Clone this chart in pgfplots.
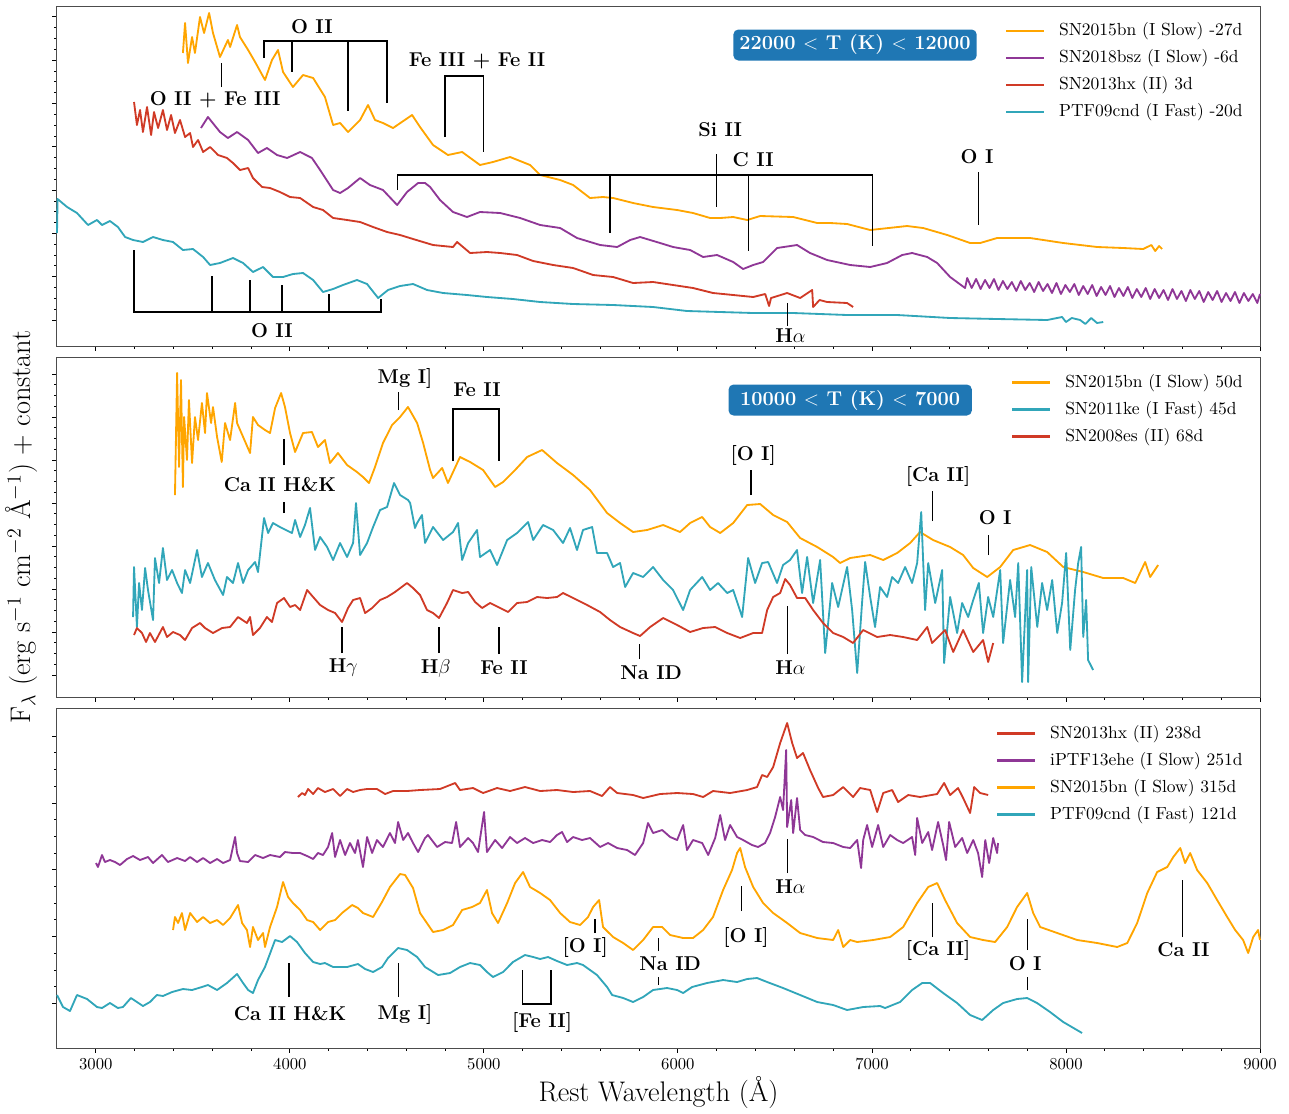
\documentclass[border=0pt]{standalone}
\usepackage{fontspec}
\usepackage{pgfplots}
\pgfplotsset{compat=1.18}
\definecolor{orng}{RGB}{255,165,0}
\definecolor{purp}{RGB}{143,55,150}
\definecolor{redd}{RGB}{208,58,38}
\definecolor{teal}{RGB}{49,166,185}
\definecolor{boxblue}{RGB}{31,119,180}

\pgfplotsset{
  panel/.style={
    scale only axis, width=721.8pt, height=204pt,
    xmin=2800, xmax=9000, ymin=0, ymax=340,
    xtick={3000,4000,...,9000}, minor x tick num=4,
    minor y tick num=3, yticklabels={},
    /pgf/number format/1000 sep={},
    tick pos=left, tick align=outside,
    major tick length=2.7pt, minor tick length=1.6pt,
    axis line style={draw=black!70, line width=0.6pt},
    every tick/.style={black, line width=0.5pt},
    ticklabel style={font=\fontsize{10}{12}\selectfont},
    clip=false, anchor=north west,
    every axis plot/.append style={line width=1.1pt, line join=round},
    legend style={at={(rel axis cs:0.9859,0.952)}, anchor=north east,
      draw=none, fill=none, inner sep=0pt, row sep=5.7pt, column sep=8.4pt,
      font=\fontsize{10.5}{12}\selectfont,
      nodes={inner sep=0pt, text height=8pt, text depth=2.5pt}},
    legend cell align=left,
    legend image code/.code={\draw[##1, line width=1.3pt] (0pt,0pt) -- (22.8pt,0pt);},
  },
}
\tikzset{
  ann/.style={black, line width=0.7pt},
  lbl/.style={font=\fontsize{12}{14}\selectfont\bfseries, inner sep=0pt},
  tbox/.style={fill=boxblue, rounded corners=3pt, text=white,
    font=\fontsize{12}{14}\selectfont\bfseries, minimum height=18.6pt,
    minimum width=146pt, inner sep=2pt},
}

\begin{document}
\begin{tikzpicture}
\useasboundingbox (-34.2pt,3.6pt) rectangle (739.2pt,-664.2pt);

% ---------- top panel ----------
\begin{axis}[panel, at={(0pt,0pt)}, xticklabels={},
  ytick={26,69.3,112.6,155.9,199.2,242.5,285.8,329.1}]
\addplot[orng] coordinates {(3449,293) (3460,323) (3475,283) (3496,309) (3511,293) (3537,329) (3558,313) (3584,333) (3604,313) (3640,289) (3681,306) (3692,299) (3728,321) (3743,309) (3785,296) (3821,284) (3872,266) (3908,286) (3939,296) (3965,274) (4016,259) (4068,271) (4120,268) (4181,249) (4223,221) (4259,223) (4300,214) (4362,226) (4403,241) (4439,226) (4480,223) (4532,218) (4630,231) (4671,219) (4738,201) (4815,191) (4888,194) (4980,181) (5047,184) (5135,189) (5238,181) (5290,171) (5393,166) (5460,161) (5547,148) (5614,149) (5666,148) (5769,143) (5872,139) (5996,136) (6078,133) (6166,128) (6218,128) (6285,129) (6357,126) (6424,130) (6594,129) (6718,123) (6785,123) (6872,122) (6991,116) (7181,120) (7264,118) (7388,111) (7506,103) (7558,103) (7645,108) (7815,108) (7986,103) (8161,99) (8295,98) (8398,97) (8440,101) (8460,95) (8480,100) (8496,97)};
\addplot[purp] coordinates {(3542,218) (3578,229) (3640,214) (3681,208) (3728,214) (3785,206) (3836,193) (3882,198) (3934,191) (3986,188) (4053,194) (4114,188) (4156,176) (4223,156) (4259,153) (4300,158) (4362,168) (4413,161) (4480,156) (4553,141) (4604,154) (4661,163) (4697,163) (4723,159) (4774,146) (4841,134) (4913,129) (4980,134) (5084,133) (5187,128) (5290,121) (5393,118) (5480,108) (5599,101) (5687,99) (5754,106) (5805,109) (5908,103) (5975,99) (6063,96) (6130,89) (6202,91) (6285,84) (6336,77) (6388,81) (6439,84) (6511,98) (6614,101) (6681,93) (6769,86) (6888,81) (6991,79) (7078,83) (7156,91) (7207,93) (7285,89) (7336,83) (7403,69) (7480,58)
 (7491,68) (7514,58) (7537,67) (7560,57) (7583,66) (7606,58) (7629,67) (7652,56) (7675,65) (7698,57) (7721,64) (7744,55) (7767,65) (7790,56) (7813,63) (7836,54) (7859,64) (7882,55) (7905,62) (7928,53) (7951,63) (7974,52) (7997,61) (8020,54) (8043,62) (8066,51) (8089,60) (8112,52) (8135,61) (8158,50) (8181,59) (8204,51) (8227,60) (8250,49) (8273,58) (8296,50) (8319,59) (8342,48) (8365,57) (8388,49) (8411,58) (8434,47) (8457,57) (8480,48) (8503,56) (8526,46) (8549,57) (8572,47) (8595,55) (8618,45) (8641,56) (8664,47) (8687,55) (8710,44) (8733,54) (8756,46) (8779,55) (8802,44) (8825,53) (8848,45) (8871,54) (8894,43) (8917,53) (8940,45) (8963,52) (8986,43) (9000,52)};
\addplot[redd] coordinates {(3197,244) (3212,221) (3228,236) (3243,214) (3264,239) (3285,211) (3300,234) (3321,218) (3346,236) (3367,216) (3388,231) (3408,213) (3434,226) (3460,209) (3486,213) (3501,199) (3527,206) (3553,194) (3589,199) (3630,191) (3676,188) (3707,183) (3743,176) (3785,178) (3810,168) (3857,159) (3898,158) (3949,154) (4001,149) (4053,148) (4120,139) (4171,136) (4223,128) (4295,126) (4362,124) (4429,119) (4501,114) (4568,111) (4635,107) (4738,101) (4841,99) (4862,104) (4929,93) (5016,94) (5084,93) (5171,91) (5254,85) (5357,81) (5460,78) (5563,71) (5666,69) (5769,63) (5872,64) (5975,61) (6078,58) (6181,53) (6285,51) (6388,49) (6450,52) (6460,46) (6470,40) (6480,48) (6563,53) (6630,48) (6692,56) (6697,39) (6730,46) (6769,44) (6872,43) (6903,39)};
\addplot[teal] coordinates {(2800,113) (2803,147) (2852,139) (2903,133) (2960,121) (3006,126) (3032,121) (3073,125) (3114,119) (3151,109) (3192,106) (3243,104) (3295,109) (3346,106) (3398,104) (3449,96) (3501,97) (3553,89) (3589,81) (3640,83) (3707,88) (3759,83) (3810,74) (3862,79) (3913,69) (3965,69) (4016,72) (4068,73) (4120,66) (4171,54) (4223,57) (4274,61) (4346,66) (4398,62) (4455,48) (4506,56) (4568,60) (4635,62) (4707,56) (4790,53) (4913,51) (5016,49) (5150,47) (5290,44) (5460,42) (5666,41) (5872,39) (6047,35) (6218,34) (6388,33) (6594,33) (6872,31) (7130,31) (7403,28) (7645,27) (7903,26) (7980,29) (8000,24) (8030,28) (8073,26) (8100,22) (8130,28) (8160,23) (8192,24)};
\legend{SN2015bn (I Slow) -27d, SN2018bsz (I Slow) -6d, SN2013hx (II) 3d, PTF09cnd (I Fast) -20d}
% annotations
\draw[ann] (axis cs:3649,259) -- (axis cs:3649,283);
\node[lbl] at (axis cs:3615,246) {O II + Fe III};
\draw[ann] (axis cs:3867,288) -- (axis cs:3867,305) -- (axis cs:4501,305) -- (axis cs:4501,243);
\draw[ann] (axis cs:4011,305) -- (axis cs:4011,274);
\draw[ann] (axis cs:4300,305) -- (axis cs:4300,235);
\node[lbl] at (axis cs:4114,319) {O II};
\draw[ann] (axis cs:4800,209) -- (axis cs:4800,270) -- (axis cs:4996,270) -- (axis cs:4996,194);
\node[lbl] at (axis cs:4965,285) {Fe III + Fe II};
\draw[ann] (axis cs:4553,156) -- (axis cs:4553,171) -- (axis cs:7001,171) -- (axis cs:7001,100);
\draw[ann] (axis cs:5650,171) -- (axis cs:5650,113);
\draw[ann] (axis cs:6362,171) -- (axis cs:6362,95);
\draw[ann] (axis cs:6200,192) -- (axis cs:6200,139);
\node[lbl] at (axis cs:6218,216) {Si II};
\node[lbl] at (axis cs:6388,186) {C II};
\draw[ann] (axis cs:7551,174) -- (axis cs:7551,121);
\node[lbl] at (axis cs:7542,189) {O I};
\draw[ann] (axis cs:6565,43) -- (axis cs:6565,20);
\node[lbl] at (axis cs:6580,10) {H$\alpha$};
\draw[ann] (axis cs:3197,96) -- (axis cs:3197,34) -- (axis cs:4470,34) -- (axis cs:4470,47);
\draw[ann] (axis cs:3599,34) -- (axis cs:3599,70);
\draw[ann] (axis cs:3795,34) -- (axis cs:3795,66);
\draw[ann] (axis cs:3960,34) -- (axis cs:3960,61);
\draw[ann] (axis cs:4202,34) -- (axis cs:4202,52);
\node[lbl] at (axis cs:3908,15) {O II};
\node[tbox] at (axis cs:6913,301) {22000 $<$ T (K) $<$ 12000};
\end{axis}

% ---------- middle panel ----------
\begin{axis}[panel, at={(0pt,-210.6pt)}, xticklabels={},
  ytick={22,65,108,151,194,237,280,323}]
\addplot[orng] coordinates {(3408,202) (3419,324) (3429,230) (3439,317) (3449,210) (3455,280) (3470,237) (3480,297) (3496,234) (3511,280) (3527,257) (3547,294) (3563,264) (3573,304) (3594,274) (3604,290) (3625,260) (3649,235) (3666,274) (3692,257) (3718,294) (3728,274) (3795,244) (3810,280) (3836,272) (3872,267) (3898,264) (3924,289) (3955,304) (3975,290) (4001,264) (4027,245) (4068,264) (4114,265) (4145,250) (4181,257) (4207,234) (4248,244) (4295,232) (4346,225) (4377,220) (4408,214) (4439,230) (4480,254) (4527,272) (4568,280) (4609,290) (4656,274) (4687,254) (4723,227) (4738,219) (4785,229) (4815,214) (4877,240) (4929,235) (4996,227) (5058,210) (5099,215) (5161,227) (5223,240) (5300,247) (5377,234) (5460,222) (5547,207) (5635,184) (5702,174) (5769,165) (5841,167) (5924,172) (6011,165) (6063,174) (6125,180) (6166,170) (6218,164) (6285,174) (6357,192) (6424,193) (6491,182) (6563,175) (6630,159) (6718,150) (6800,140) (6836,134) (6888,139) (6991,142) (7058,137) (7130,144) (7197,154) (7248,165) (7315,157) (7403,150) (7470,142) (7522,129) (7594,120) (7661,130) (7728,147) (7815,152) (7903,145) (7986,130) (8089,125) (8192,119) (8295,119) (8357,114) (8408,135) (8434,120) (8475,132)};
\addplot[teal] coordinates {(3192,80) (3197,130) (3212,70) (3223,114) (3238,87) (3254,129) (3269,107) (3295,77) (3305,139) (3326,114) (3346,149) (3367,117) (3393,127) (3419,114) (3444,104) (3460,127) (3486,114) (3522,147) (3547,120) (3578,134) (3614,117) (3656,102) (3676,120) (3707,114) (3733,134) (3759,114) (3785,127) (3821,135) (3836,125) (3867,179) (3888,164) (3913,174) (3949,170) (4011,164) (4027,177) (4053,160) (4078,172) (4104,189) (4130,147) (4156,160) (4192,150) (4223,137) (4259,154) (4295,140) (4326,154) (4341,194) (4362,142) (4398,154) (4429,170) (4465,187) (4501,190) (4537,214) (4568,202) (4609,197) (4620,194) (4645,169) (4656,174) (4681,182) (4697,154) (4738,170) (4790,157) (4841,165) (4867,174) (4888,137) (4919,154) (4965,167) (4980,140) (5032,147) (5068,132) (5120,157) (5171,164) (5228,175) (5254,157) (5305,172) (5357,167) (5408,154) (5444,169) (5480,147) (5511,167) (5558,170) (5583,144) (5635,144) (5666,130) (5702,134) (5728,110) (5769,124) (5821,120) (5872,130) (5924,117) (5975,107) (6027,87) (6063,107) (6125,120) (6166,107) (6207,114) (6254,104) (6285,107) (6331,80) (6362,139) (6398,114) (6434,134) (6465,135) (6511,114) (6542,132) (6578,137) (6614,147) (6640,104) (6666,140) (6697,94) (6733,137) (6759,44) (6795,114) (6826,90) (6872,130) (6898,87) (6924,24) (6949,94) (6965,135) (6991,100) (7016,70) (7042,110) (7078,100) (7104,120) (7135,114) (7171,130) (7207,114) (7233,134) (7254,185) (7274,87) (7290,134) (7326,94) (7362,127) (7372,34) (7403,100) (7439,64) (7465,94) (7496,80) (7522,97) (7551,114) (7573,64) (7599,100) (7625,80) (7661,127) (7676,54) (7712,117) (7738,80) (7754,134) (7774,15) (7800,127) (7805,15) (7821,130) (7852,70) (7877,114) (7903,87) (7929,117) (7955,64) (7980,94) (8001,144) (8022,47) (8047,107) (8063,134) (8078,150) (8089,60) (8104,97) (8114,37) (8140,27)};
\addplot[redd] coordinates {(3197,62) (3212,69) (3238,64) (3259,55) (3279,64) (3305,55) (3346,70) (3367,60) (3398,65) (3434,62) (3460,57) (3496,69) (3537,74) (3563,69) (3604,64) (3651,69) (3692,70) (3733,80) (3779,74) (3795,80) (3810,62) (3846,69) (3882,80) (3908,75) (3934,94) (3970,99) (4001,90) (4027,92) (4053,87) (4089,107) (4120,100) (4156,92) (4197,87) (4233,84) (4269,75) (4300,89) (4326,97) (4362,99) (4388,84) (4424,89) (4465,97) (4501,100) (4542,105) (4604,114) (4635,109) (4671,102) (4707,87) (4738,84) (4769,79) (4810,94) (4841,107) (4888,104) (4919,105) (4955,95) (4991,89) (5032,94) (5084,89) (5125,85) (5171,94) (5223,95) (5274,100) (5326,99) (5377,100) (5408,104) (5460,99) (5532,92) (5599,85) (5650,77) (5702,70) (5769,64) (5805,61) (5857,70) (5924,79) (5996,72) (6063,65) (6130,69) (6192,70) (6254,64) (6321,59) (6388,64) (6434,64) (6460,87) (6491,100) (6527,104) (6553,118) (6578,112) (6614,99) (6656,99) (6697,87) (6748,74) (6800,64) (6852,60) (6903,54) (6955,67) (7027,60) (7094,62) (7161,60) (7233,57) (7285,70) (7310,54) (7377,67) (7419,45) (7470,67) (7522,45) (7573,57) (7599,35) (7625,54)};
\legend{SN2015bn (I Slow) 50d, SN2011ke (I Fast) 45d, SN2008es (II) 68d}
\draw[ann] (axis cs:4558,287) -- (axis cs:4558,305);
\node[lbl] at (axis cs:4594,319) {Mg I]};
\draw[ann] (axis cs:4841,236) -- (axis cs:4841,288) -- (axis cs:5078,288) -- (axis cs:5078,236);
\node[lbl] at (axis cs:4965,307) {Fe II};
\draw[ann] (axis cs:3970,232) -- (axis cs:3970,258);
\draw[ann] (axis cs:3970,184) -- (axis cs:3970,195);
\node[lbl] at (axis cs:3949,212) {Ca II H\&K};
\draw[ann] (axis cs:4269,44) -- (axis cs:4269,70);
\node[lbl] at (axis cs:4275,29) {H$\gamma$};
\draw[ann] (axis cs:4769,44) -- (axis cs:4769,70);
\node[lbl] at (axis cs:4752,29) {H$\beta$};
\draw[ann] (axis cs:5078,43) -- (axis cs:5078,70);
\node[lbl] at (axis cs:5104,29) {Fe II};
\draw[ann] (axis cs:5800,38) -- (axis cs:5800,53);
\node[lbl] at (axis cs:5862,24) {Na ID};
\draw[ann] (axis cs:6565,43) -- (axis cs:6565,91);
\node[lbl] at (axis cs:6580,29) {H$\alpha$};
\draw[ann] (axis cs:6377,202) -- (axis cs:6377,227);
\node[lbl] at (axis cs:6388,242) {[O I]};
\draw[ann] (axis cs:7310,176) -- (axis cs:7310,206);
\node[lbl] at (axis cs:7341,221) {[Ca II]};
\draw[ann] (axis cs:7599,142) -- (axis cs:7599,162);
\node[lbl] at (axis cs:7635,179) {O I};
\node[tbox] at (axis cs:6888,297) {10000 $<$ T (K) $<$ 7000};
\end{axis}

% ---------- bottom panel ----------
\begin{axis}[panel, at={(0pt,-421.2pt)},
  ytick={44.7,111.5,178.3,245.1,311.9},
  xlabel={Rest Wavelength (\AA)},
  xlabel style={font=\fontsize{17}{20}\selectfont, at={(axis description cs:0.5,0)}, anchor=center, yshift=-27pt}]
\addplot[redd] coordinates {(4042,251) (4063,255) (4078,253) (4094,259) (4120,254) (4145,260) (4181,256) (4223,259) (4259,252) (4295,259) (4326,256) (4362,258) (4398,259) (4449,259) (4491,254) (4532,257) (4604,257) (4671,258) (4774,259) (4852,265) (4877,258) (4944,260) (4996,255) (5068,260) (5135,257) (5212,261) (5290,257) (5377,258) (5460,256) (5547,257) (5609,252) (5650,261) (5687,255) (5769,253) (5821,250) (5908,254) (5996,255) (6078,254) (6130,251) (6181,257) (6269,255) (6357,258) (6408,261) (6434,273) (6460,271) (6491,281) (6527,305) (6563,325) (6589,305) (6614,290) (6645,295) (6681,278) (6723,260) (6748,251) (6800,253) (6852,261) (6903,251) (6939,260) (6991,258) (7027,236) (7058,255) (7104,258) (7135,246) (7187,253) (7248,251) (7336,254) (7372,265) (7403,253) (7444,260) (7470,250) (7506,235) (7527,261) (7558,255) (7599,253)};
\addplot[purp] coordinates {(3001,185) (3011,181) (3032,193) (3047,186) (3073,188) (3099,186) (3125,183) (3161,189) (3192,192) (3228,188) (3269,191) (3295,185) (3341,193) (3372,186) (3419,190) (3460,187) (3486,191) (3522,186) (3553,190) (3589,185) (3625,189) (3656,185) (3692,188) (3718,211) (3728,195) (3743,187) (3785,186) (3821,193) (3862,190) (3898,193) (3949,191) (3975,196) (4016,195) (4053,195) (4089,192) (4120,189) (4145,195) (4171,193) (4197,201) (4218,215) (4233,191) (4259,208) (4285,193) (4310,205) (4336,195) (4351,208) (4377,181) (4398,211) (4424,195) (4449,208) (4480,201) (4516,215) (4542,205) (4558,226) (4584,208) (4609,215) (4635,205) (4661,196) (4697,210) (4712,213) (4759,201) (4800,206) (4836,205) (4857,226) (4877,201) (4919,210) (4944,205) (4970,196) (5001,236) (5016,196) (5058,208) (5094,200) (5135,211) (5171,205) (5212,210) (5254,205) (5300,208) (5341,206) (5377,213) (5403,216) (5429,206) (5460,211) (5506,208) (5547,210) (5599,201) (5640,205) (5687,200) (5738,198) (5779,193) (5821,205) (5846,225) (5872,215) (5919,218) (5960,211) (5996,208) (6027,223) (6047,198) (6078,208) (6125,205) (6156,193) (6192,210) (6218,233) (6243,208) (6269,223) (6305,211) (6336,208) (6382,203) (6413,201) (6449,205) (6475,215) (6501,231) (6527,251) (6542,238) (6558,298) (6563,221) (6584,248) (6594,215) (6614,250) (6630,218) (6656,213) (6697,211) (6748,206) (6800,205) (6852,201) (6888,200) (6924,208) (6944,180) (6955,208) (6975,223) (7001,201) (7032,223) (7058,201) (7094,213) (7130,208) (7161,205) (7207,211) (7223,193) (7233,230) (7259,205) (7290,216) (7310,198) (7341,226) (7367,203) (7382,188) (7398,226) (7429,201) (7465,210) (7491,195) (7522,208) (7547,195) (7568,171) (7584,208) (7604,185) (7625,210) (7645,195) (7650,205)};
\addplot[orng] coordinates {(3398,118) (3408,131) (3424,125) (3444,135) (3460,118) (3486,135) (3522,126) (3553,131) (3589,125) (3625,128) (3656,123) (3692,130) (3733,143) (3754,125) (3779,118) (3795,101) (3810,121) (3836,108) (3862,115) (3872,101) (3898,121) (3934,141) (3965,166) (3991,151) (4016,145) (4053,138) (4089,128) (4120,126) (4156,118) (4197,126) (4233,128) (4269,135) (4321,143) (4351,140) (4377,135) (4429,131) (4475,146) (4516,161) (4568,174) (4594,173) (4635,160) (4671,135) (4738,116) (4790,118) (4841,123) (4888,138) (4939,141) (4980,145) (5016,158) (5042,135) (5073,125) (5120,145) (5161,165) (5202,176) (5238,161) (5290,155) (5341,148) (5393,135) (5444,126) (5496,123) (5537,131) (5563,141) (5594,148) (5614,121) (5666,111) (5718,105) (5769,98) (5821,108) (5872,121) (5919,121) (5960,113) (6027,110) (6078,110) (6130,118) (6181,131) (6233,158) (6279,178) (6305,195) (6321,200) (6346,181) (6388,161) (6439,145) (6491,135) (6563,125) (6630,115) (6718,110) (6800,108) (6826,118) (6852,101) (6888,108) (6924,106) (7006,108) (7094,111) (7161,121) (7233,145) (7290,161) (7336,165) (7377,148) (7439,125) (7506,111) (7573,108) (7635,106) (7697,121) (7748,141) (7800,155) (7831,135) (7867,121) (7955,115) (8058,108) (8161,105) (8264,101) (8316,105) (8367,125) (8419,155) (8470,176) (8522,181) (8553,191) (8589,200) (8614,185) (8640,195) (8676,178) (8728,165) (8779,148) (8831,131) (8872,118) (8913,108) (8939,95) (8965,111) (8990,118) (9000,108)};
\addplot[teal] coordinates {(2800,53) (2831,41) (2867,37) (2903,53) (2955,49) (3006,41) (3032,40) (3073,45) (3114,40) (3140,41) (3181,50) (3212,46) (3243,42) (3279,46) (3315,53) (3346,52) (3393,56) (3449,59) (3496,58) (3547,61) (3578,63) (3625,58) (3676,65) (3728,74) (3759,65) (3785,58) (3810,55) (3836,68) (3872,81) (3924,108) (3960,106) (4001,112) (4037,106) (4078,95) (4120,86) (4156,84) (4181,85) (4223,81) (4295,81) (4351,84) (4388,79) (4429,76) (4475,81) (4506,90) (4558,100) (4604,98) (4656,91) (4697,81) (4764,73) (4826,75) (4877,81) (4929,85) (4980,83) (5016,76) (5047,71) (5099,76) (5150,86) (5212,93) (5254,91) (5290,89) (5331,91) (5377,87) (5429,83) (5480,85) (5511,83) (5583,73) (5635,61) (5661,53) (5718,50) (5769,46) (5821,51) (5872,58) (5944,60) (5996,58) (6027,55) (6073,61) (6150,65) (6233,68) (6305,66) (6357,69) (6408,70) (6460,66) (6542,60) (6630,53) (6718,46) (6800,43) (6872,38) (6955,41) (7042,42) (7068,40) (7145,46) (7207,58) (7259,65) (7300,65) (7367,55) (7439,45) (7506,33) (7568,28) (7625,38) (7676,45) (7748,49) (7800,50) (7851,45) (7918,36) (7986,26) (8083,15)};
\legend{SN2013hx (II) 238d, iPTF13ehe (I Slow) 251d, SN2015bn (I Slow) 315d, PTF09cnd (I Fast) 121d}
\draw[ann] (axis cs:6565,175) -- (axis cs:6565,209);
\node[lbl] at (axis cs:6580,161) {H$\alpha$};
\draw[ann] (axis cs:6329,137) -- (axis cs:6329,162);
\node[lbl] at (axis cs:6351,111) {[O I]};
\draw[ann] (axis cs:5573,115) -- (axis cs:5573,129);
\node[lbl] at (axis cs:5522,101) {[O I]};
\draw[ann] (axis cs:5898,97) -- (axis cs:5898,110);
\draw[ann] (axis cs:5898,63) -- (axis cs:5898,71);
\node[lbl] at (axis cs:5960,84) {Na ID};
\draw[ann] (axis cs:5197,78) -- (axis cs:5197,44) -- (axis cs:5346,44) -- (axis cs:5346,78);
\node[lbl] at (axis cs:5300,26) {[Fe II]};
\draw[ann] (axis cs:4558,51) -- (axis cs:4558,85);
\node[lbl] at (axis cs:4594,34) {Mg I]};
\draw[ann] (axis cs:3996,51) -- (axis cs:3996,85);
\node[lbl] at (axis cs:4001,34) {Ca II H\&K};
\draw[ann] (axis cs:7310,111) -- (axis cs:7310,145);
\node[lbl] at (axis cs:7341,98) {[Ca II]};
\draw[ann] (axis cs:7800,98) -- (axis cs:7800,129);
\draw[ann] (axis cs:7800,58) -- (axis cs:7800,71);
\node[lbl] at (axis cs:7790,84) {O I};
\draw[ann] (axis cs:8599,111) -- (axis cs:8599,168);
\node[lbl] at (axis cs:8605,98) {Ca II};
\end{axis}

\node[rotate=90, font=\fontsize{17}{20}\selectfont] at (-21pt,-312.6pt)
  {F$_\lambda$ (erg s$^{-1}$ cm$^{-2}$ \AA$^{-1}$) + constant};
\end{tikzpicture}
\end{document}
